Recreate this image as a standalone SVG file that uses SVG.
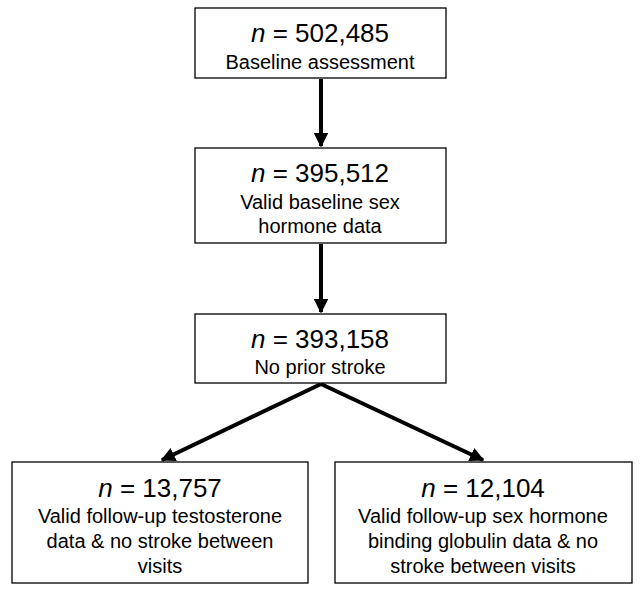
<svg xmlns="http://www.w3.org/2000/svg" width="643" height="597" viewBox="0 0 643 597">
<style>
.box{fill:#fff;stroke:#000;stroke-width:1.3}
.n{font-family:"Liberation Sans",Arial,sans-serif;font-size:26px;text-anchor:middle}
.t{font-family:"Liberation Sans",Arial,sans-serif;font-size:20px;text-anchor:middle}
.c{stroke:#000;stroke-width:4;fill:none}
</style>
<defs><marker id="a" viewBox="0 0 10 10" refX="9" refY="5" markerWidth="3.6" markerHeight="3.6" orient="auto"><path d="M0,0L10,5L0,10z"/></marker></defs>
<rect width="643" height="597" fill="#fff"/>
<g id="connectors">
<line class="c" x1="321" y1="79" x2="321" y2="146" marker-end="url(#a)"/>
<line class="c" x1="321" y1="244" x2="321" y2="312" marker-end="url(#a)"/>
<line class="c" x1="321" y1="384" x2="162" y2="460" marker-end="url(#a)"/>
<line class="c" x1="321" y1="384" x2="483" y2="460" marker-end="url(#a)"/>
</g>
<g id="n1"><rect class="box" x="195" y="8" width="251" height="70"/>
<text class="n" x="320" y="42"><tspan font-style="italic">n</tspan> = 502,485</text>
<text class="t" x="320" y="69">Baseline assessment</text></g>
<g id="n2"><rect class="box" x="195" y="148" width="251" height="95"/>
<text class="n" x="320" y="182"><tspan font-style="italic">n</tspan> = 395,512</text>
<text class="t" x="320" y="209">Valid baseline sex</text>
<text class="t" x="320" y="233">hormone data</text></g>
<g id="n3"><rect class="box" x="195" y="314" width="251" height="69"/>
<text class="n" x="320" y="348"><tspan font-style="italic">n</tspan> = 393,158</text>
<text class="t" x="320" y="374">No prior stroke</text></g>
<g id="n4"><rect class="box" x="12" y="462" width="296" height="121"/>
<text class="n" x="160" y="497"><tspan font-style="italic">n</tspan> = 13,757</text>
<text class="t" x="160" y="523">Valid follow-up testosterone</text>
<text class="t" x="160" y="548">data &amp; no stroke between</text>
<text class="t" x="160" y="573">visits</text></g>
<g id="n5"><rect class="box" x="335" y="462" width="297" height="121"/>
<text class="n" x="483" y="497"><tspan font-style="italic">n</tspan> = 12,104</text>
<text class="t" x="483" y="523">Valid follow-up sex hormone</text>
<text class="t" x="483" y="548">binding globulin data &amp; no</text>
<text class="t" x="483" y="573">stroke between visits</text></g>
</svg>
